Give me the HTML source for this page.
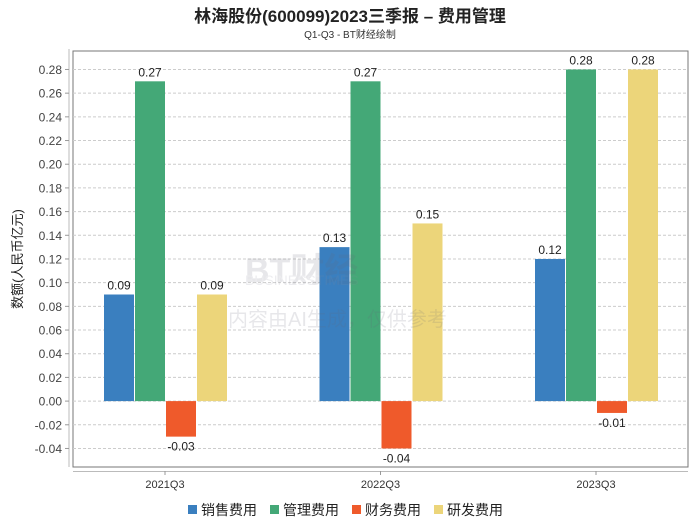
<!DOCTYPE html>
<html><head><meta charset="utf-8"><style>
body{margin:0;background:#fff;}
svg{display:block;font-family:"Liberation Sans","Noto Sans CJK SC",sans-serif;}
</style></head><body>
<svg id="c" width="700" height="524">
<text x="350" y="22" text-anchor="middle" font-size="17" font-weight="bold" fill="#222">林海股份(600099)2023三季报 – 费用管理</text>
<text x="350" y="38" text-anchor="middle" font-size="10" fill="#333">Q1-Q3 - BT财经绘制</text>
<text transform="translate(22,259) rotate(-90)" text-anchor="middle" font-size="13" fill="#222">数额(人民币亿元)</text>
<g id="grid"></g><g id="bars"></g><g id="legend"></g>
<g id="wm" opacity="0.15">
<text x="245" y="282" font-size="34" font-weight="bold" fill="#667">BT财经</text>
<text x="245" y="285" font-size="14" fill="#889">BUSINESSTIMES</text>
<text x="228" y="326" font-size="20" fill="#667">内容由AI生成，仅供参考</text>
</g>
</svg>
<script>
const categories=["2021Q3","2022Q3","2023Q3"];
const seriesNames=["销售费用","管理费用","财务费用","研发费用"];
const colors=["#3a7fbf","#44a877","#ef5a2b","#ecd57a"];
const sales=[0.09,0.13,0.12];
const admin=[0.27,0.27,0.28];
const finance=[-0.03,-0.04,-0.01];
const rnd=[0.09,0.15,0.28];
const yTicks=[-0.04,-0.02,0,0.02,0.04,0.06,0.08,0.10,0.12,0.14,0.16,0.18,0.20,0.22,0.24,0.26,0.28];
const series=[sales,admin,finance,rnd];
const NS="http://www.w3.org/2000/svg";
const L=73,R=688,T=51,B=467;
const y=v=>401.1-v*1184.4;
const xc=i=>165+i*215.5;
function mk(tag,attrs,parent,text){const e=document.createElementNS(NS,tag);for(const k in attrs)e.setAttribute(k,attrs[k]);if(text!==undefined)e.textContent=text;parent.appendChild(e);return e;}
const g=document.getElementById('grid');
mk('rect',{x:L,y:T,width:R-L,height:B-T,fill:'none',stroke:'#777','stroke-width':1},g);
mk('line',{x1:69,y1:T-2,x2:69,y2:B,stroke:'#bbb'},g);
mk('line',{x1:L,y1:471.5,x2:R,y2:471.5,stroke:'#bbb'},g);
yTicks.forEach(v=>{
 const yy=y(v);
 const ln=mk('line',{x1:L,y1:yy,x2:R,y2:yy,stroke:'#ccc','stroke-dasharray':'3,2'},g);
 
 
 mk('line',{x1:65,y1:yy,x2:69,y2:yy,stroke:'#999'},g);
 const t=mk('text',{x:62,y:yy+4.5,'text-anchor':'end','font-size':12,fill:'#444'},g,v.toFixed(2));
 
 
});
categories.forEach((c,i)=>{
 mk('line',{x1:xc(i),y1:471,x2:xc(i),y2:475,stroke:'#999'},g);
 const t=mk('text',{x:xc(i),y:488,'text-anchor':'middle','font-size':11,fill:'#333'},g,c);
 
 
});
const bg=document.getElementById('bars');
categories.forEach((c,i)=>{
 series.forEach((s,j)=>{
  const v=s[i];const x0=xc(i)-61+j*31;const y0=y(Math.max(v,0)),y1=y(Math.min(v,0));
  const r=mk('rect',{x:x0,y:y0,width:30,height:Math.max(1,y1-y0),fill:colors[j]},bg);
  
  
  const ty=v>=0?y0-5:y1+14;
  const t=mk('text',{x:x0+15,y:ty,'text-anchor':'middle','font-size':12,fill:'#222'},bg,v.toFixed(2));
  
  
 });
});
const lg=document.getElementById('legend');
let lx=188;
seriesNames.forEach((n,j)=>{
 const grp=mk('g',{},lg);
 
 
 mk('rect',{x:lx,y:505,width:9,height:9,fill:colors[j]},grp);
 mk('text',{x:lx+13,y:515,'font-size':14,fill:'#222'},grp,n);
 lx+=82;
});
</script>
</body></html>
